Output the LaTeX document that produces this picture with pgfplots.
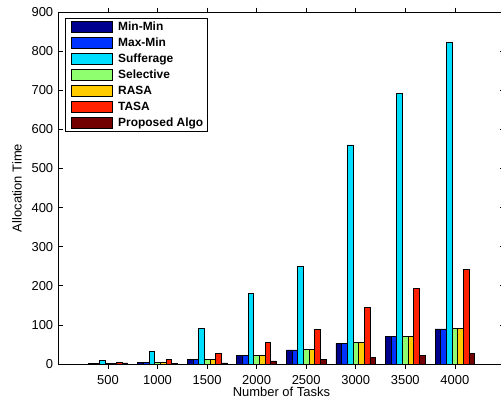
\documentclass[border=0pt]{standalone}
\usepackage{pgfplots}
\pgfplotsset{compat=1.18}
\usepackage{fontspec}
\setmainfont{Liberation Sans}
\definecolor{c1}{rgb}{0,0,0.56}
\definecolor{c2}{rgb}{0,0.2,1}
\definecolor{c3}{rgb}{0,0.87,1}
\definecolor{c4}{rgb}{0.56,1,0.44}
\definecolor{c5}{rgb}{1,0.8,0}
\definecolor{c6}{rgb}{1,0.13,0}
\definecolor{c7}{rgb}{0.45,0,0}
\begin{document}
\begin{tikzpicture}
\begin{axis}[
  scale only axis, width=446bp, height=352bp,
  xmin=0, xmax=4500, ymin=0, ymax=900,
  xtick={500,1000,...,4000}, ytick={0,100,...,900},
  /pgf/number format/assume math mode=true,
  /pgf/number format/1000 sep={},
  tick align=inside, major tick length=4.5bp,
  ybar=0pt, bar width=5.665bp,
  axis line style={line width=0.8bp},
  every tick/.style={black, line width=0.6bp},
  tick label style={font=\fontsize{13}{15}\selectfont},
  xticklabel style={anchor=base, inner sep=0pt, yshift=-16bp},
  yticklabel style={anchor=east, inner sep=0pt, xshift=-5bp},
  label style={font=\fontsize{13}{15}\selectfont},
  xlabel={Number of Tasks}, ylabel={Allocation Time},
  xlabel style={at={(axis description cs:0.5,-0.0795)}, anchor=center},
  ylabel style={at={(axis description cs:-0.0928,0.5)}, anchor=center},
  every axis plot post/.append style={draw=black, line width=0.6bp,
    legend image code/.code={\path (0bp,0bp) (48bp,0bp);\draw[##1, line width=0.6bp] (4bp,-5.5bp) rectangle (45bp,5.5bp);}},
  legend style={at={(axis description cs:0.0141,0.982)}, anchor=north west,
    draw=black, line width=0.8bp, font=\bfseries\fontsize{12}{14}\selectfont,
    inner xsep=2bp, inner ysep=0.5bp, row sep=0bp,
    nodes={inner xsep=2.5bp, inner ysep=1.5bp, text height=9.5bp, text depth=3.5bp}},
  legend cell align=left,
]
\addplot[fill=c1] coordinates {(500,1) (1000,5) (1500,12) (2000,21) (2500,36) (3000,53) (3500,70) (4000,90)};
\addplot[fill=c2] coordinates {(500,1) (1000,5) (1500,12) (2000,21) (2500,36) (3000,53) (3500,70) (4000,90)};
\addplot[fill=c3] coordinates {(500,10) (1000,33) (1500,91) (2000,180) (2500,250) (3000,560) (3500,692) (4000,822)};
\addplot[fill=c4] coordinates {(500,2) (1000,5) (1500,12) (2000,21) (2500,37) (3000,55) (3500,71) (4000,91)};
\addplot[fill=c5] coordinates {(500,2) (1000,5) (1500,12) (2000,21) (2500,37) (3000,55) (3500,71) (4000,91)};
\addplot[fill=c6] coordinates {(500,4) (1000,12) (1500,27) (2000,56) (2500,88) (3000,145) (3500,194) (4000,242)};
\addplot[fill=c7] coordinates {(500,3) (1000,1) (1500,3) (2000,8) (2500,12) (3000,17) (3500,22) (4000,28)};
\legend{Min{-}Min, Max{-}Min, Sufferage, Selective, RASA, TASA, Proposed Algo}
\end{axis}
\pgfresetboundingbox
\useasboundingbox (-58.4bp,-38bp) rectangle (442.6bp,364bp);
\end{tikzpicture}
\end{document}
